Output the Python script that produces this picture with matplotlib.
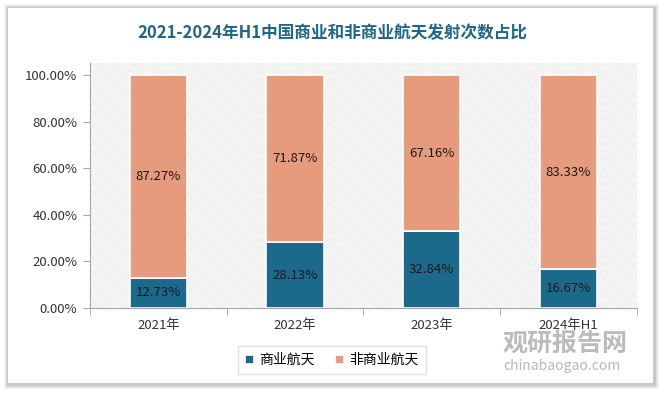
import numpy as np
import matplotlib.pyplot as plt
from matplotlib.patches import Rectangle

plt.rcParams['font.family'] = ['Noto Sans CJK SC', 'DejaVu Sans']
plt.rcParams['hatch.linewidth'] = 0.5

years = ["2021年", "2022年", "2023年", "2024年H1"]
commercial = [12.73, 28.13, 32.84, 16.67]
non_commercial = [87.27, 71.87, 67.16, 83.33]
series_names = ["商业航天", "非商业航天"]

c_blue = "#1b6a8c"
c_orange = "#e69c7c"

fig = plt.figure(figsize=(6.64, 3.96), dpi=100)
W, H = 664, 396

# card with soft shadow
for i, a in enumerate([0.04, 0.05, 0.06, 0.08]):
    d = 5 - i
    fig.patches.append(Rectangle(((8 - d + 1) / W, (13 - d - 1) / H), (645 + 2 * d) / W, (375 + 2 * d) / H,
                                 transform=fig.transFigure, facecolor='black', alpha=a,
                                 edgecolor='none', zorder=0))
fig.patches.append(Rectangle((8 / W, 13 / H), 645 / W, 375 / H, transform=fig.transFigure,
                             facecolor='white', edgecolor='none', zorder=1))

ax = fig.add_axes([90 / W, 1 - 307.7 / H, 546.7 / W, (307.7 - 63) / H])
ax.set_zorder(2)
ax.add_patch(Rectangle((0, 0), 1, 1, transform=ax.transAxes, facecolor='white',
                       edgecolor='#dcdcdc', linewidth=0, hatch='\\' * 10, zorder=0))
ax.patch.set_visible(False)

x = np.arange(len(years))
width = 0.42
com = np.array(commercial) / 100
non = np.array(non_commercial) / 100
ax.bar(x, com, width, color=c_blue, edgecolor='white', linewidth=1.2, label=series_names[0], zorder=3)
ax.bar(x, non, width, bottom=com, color=c_orange, edgecolor='white', linewidth=1.2,
       label=series_names[1], zorder=3)

for xi, c, n in zip(x, commercial, non_commercial):
    ax.text(xi, c / 200, f"{c:.2f}%", ha='center', va='center', fontsize=9.5, color='#1a1a1a', zorder=4)
    ax.text(xi, c / 100 + n / 200, f"{n:.2f}%", ha='center', va='center', fontsize=9.5,
            color='#1a1a1a', zorder=4)

ax.set_xlim(-0.5, 3.5)
ax.set_ylim(0, 1.053)
ax.set_yticks(np.arange(0, 1.01, 0.2))
ax.set_yticklabels([f"{v * 100:.2f}%" for v in np.arange(0, 1.01, 0.2)], fontsize=9.5, color='#333333')
ax.set_xticks(x)
ax.set_xticklabels(years, fontsize=9.5, color='#333333')
ax.set_xticks(np.arange(-0.5, 3.6, 1), minor=True)
ax.tick_params(axis='x', which='major', length=0, pad=8)
ax.tick_params(axis='x', which='minor', length=5, color='#a6a6a6')
ax.tick_params(axis='y', length=5, color='#a6a6a6', pad=4)
for s in ['top', 'right']:
    ax.spines[s].set_visible(False)
for s in ['left', 'bottom']:
    ax.spines[s].set_color('#a6a6a6')

fig.text(0.5, 1 - 33 / H, "2021-2024年H1中国商业和非商业航天发射次数占比", ha='center', va='center',
         fontsize=12, fontweight='bold', color='#1f6688')

leg = fig.legend(loc='center', bbox_to_anchor=(332 / W, 1 - 360 / H), ncol=2, fontsize=10,
                 frameon=True, fancybox=False, edgecolor='#d9d9d9', handlelength=0.6,
                 handleheight=0.6, handletextpad=0.4, columnspacing=1.5, borderpad=0.5)
leg.set_zorder(5)

# watermark
fig.text(565 / W, 1 - 344 / H, "观研报告网", ha='center', va='center', fontsize=18, fontweight='bold',
         color='#b0b0b0', alpha=0.85, zorder=6)
fig.text(562 / W, 1 - 366 / H, "chinabaogao.com", ha='center', va='center', fontsize=10,
         color='#b0b0b0', alpha=0.9, zorder=6)

fig.savefig("out.png", dpi=100)
